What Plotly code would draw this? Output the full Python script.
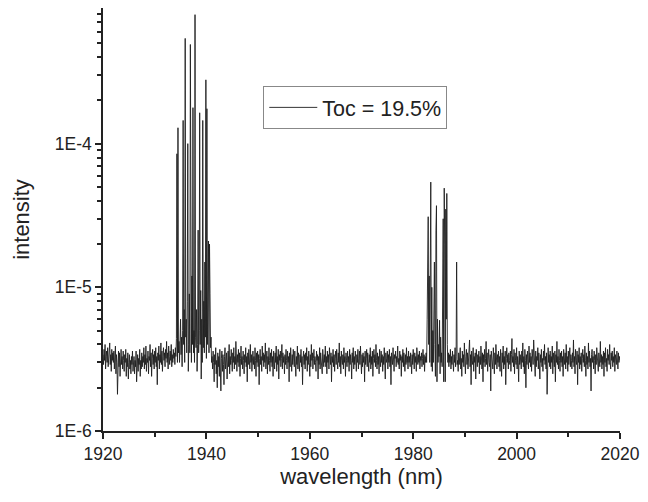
import plotly.graph_objects as go

# intensity values in units of 1e-7, sampled every 0.1 nm, split into regions
step_nm = 0.1

left_start = 1920.0
left_base = [
    34, 29, 37, 31, 40, 27, 33, 36, 30, 38, 28, 35, 32, 41, 29, 34, 26, 37, 31, 35,
    30, 36, 27, 33, 39, 25, 34, 30, 18, 32, 36, 28, 35, 24, 31, 37, 29, 33, 27, 36,
    31, 26, 34, 30, 37, 24, 32, 28, 35, 23, 30, 34, 27, 31, 25, 33, 29, 36, 26, 30,
    33, 25, 31, 28, 36, 22, 30, 34, 26, 32, 29, 37, 24, 31, 27, 35, 28, 33, 30, 38,
    27, 34, 29, 39, 26, 32, 30, 36, 25, 33, 31, 40, 28, 35, 24, 32, 37, 29, 34, 27,
    36, 30, 38, 28, 33, 21, 35, 31, 39, 27, 34, 30, 41, 29, 36, 26, 33, 38, 31, 35,
    28, 37, 32, 42, 30, 35, 27, 39, 33, 29, 36, 31, 40, 28, 34, 30, 37, 32, 35, 29,
    38, 33, 44,
]

peak1_start = 1934.3
peak1 = [
    850, 30, 1290, 35, 42, 30, 38, 60, 34, 45,
    28, 50, 1450, 40, 70, 30, 5400, 45, 60, 35,
    80, 1000, 26, 40, 90, 35, 4900, 55, 30, 120,
    40, 1780, 35, 50, 30, 7900, 45, 38, 70, 26,
    40, 250, 35, 50, 1640, 40, 95, 23, 60, 30,
    1450, 38, 80, 35, 150, 45, 2780, 32, 1750, 40,
    70, 210, 35, 200, 90, 38, 45, 30,
]

mid_start = 1941.1
mid_base = [
    33, 27, 36, 30, 22, 34, 29, 38, 25, 31, 20, 35, 28, 33, 24, 37, 30, 19, 32, 36,
    26, 34, 29, 21, 33, 38, 27, 31, 35, 23, 30, 36, 28, 40, 25, 33, 29, 37, 31, 26,
    35, 30, 38, 27, 33, 29, 42, 31, 26, 34, 30, 37, 28, 35, 24, 32, 39, 29, 33, 27,
    36, 31, 25, 34, 30, 38, 28, 33, 22, 35, 29, 37, 32, 27, 40, 30, 34, 26, 31, 36,
    29, 33, 27, 38, 31, 24, 35, 30, 36, 28, 34, 21, 32, 37, 29, 33, 26, 39, 31, 35,
    28, 34, 30, 41, 27, 32, 36, 25, 33, 29, 38, 31, 26, 35, 30, 37, 28, 33, 24, 36,
    31, 27, 35, 30, 39, 26, 33, 29, 37, 23, 34, 31, 36, 28, 32, 40, 27, 35, 30, 33,
    25, 34, 29, 37, 31, 27, 36, 30, 33, 22, 35, 28, 38, 31, 26, 34, 29, 37, 32, 28,
    36, 30, 24, 33, 29, 39, 27, 35, 31, 26, 34, 30, 37, 28, 33, 21, 32, 36, 29, 34,
    27, 35, 31, 38, 26, 33, 29, 36, 30, 24, 34, 28, 40, 31, 35, 27, 32, 37, 29, 33,
    30, 26, 36, 31, 34, 23, 33, 29, 38, 27, 35, 30, 32, 25, 37, 31, 28, 34, 30, 39,
    28, 33, 25, 36, 30, 34, 27, 38, 31, 29, 35, 22, 33, 30, 37, 28, 34, 26, 32, 36,
    29, 37, 31, 27, 35, 30, 41, 28, 33, 25, 36, 31, 29, 34, 27, 38, 30, 33, 24, 35,
    31, 28, 36, 30, 33, 26, 37, 29, 34, 31, 23, 35, 30, 38, 27, 33, 29, 36, 32, 26,
    34, 30, 37, 27, 32, 36, 29, 39, 31, 25, 34, 28, 35, 30, 33, 22, 36, 29, 32, 37,
    28, 35, 31, 26, 34, 30, 38, 27, 33, 29, 36, 24, 32, 37, 30, 34, 28, 40, 31, 27,
    35, 29, 33, 25, 37, 31, 28, 36, 30, 34, 26, 33, 29, 38, 31, 23, 35, 30, 32, 36,
    27, 34, 30, 37, 28, 33, 21, 35, 31, 29, 38, 30, 26, 34, 32, 36, 28, 33, 30, 39,
    29, 32, 27, 36, 31, 34, 24, 33, 30, 37, 28, 35, 31, 26, 34, 29, 38, 30, 33, 27,
    36, 30, 33, 28, 35, 31, 25, 34, 29, 37, 32, 27, 35, 30, 33, 26, 38, 31, 29, 34,
    30, 36, 27, 33, 31, 35, 28, 32, 37, 29, 34, 26, 33, 30,
]

peak2_start = 1982.5
peak2 = [
    35, 30, 60, 250, 310, 40, 120, 30, 300, 540,
    28, 100, 26, 50, 30, 80, 150, 40, 24, 250,
    370, 22, 60, 30, 40, 33, 59, 25, 45, 30,
    35, 28, 200, 300, 22, 490, 200, 22, 350, 60,
    450, 40, 30, 35, 28, 34, 30, 37, 27, 33,
    29, 36, 31, 26, 34, 30, 38, 28, 33, 150, 29,
]

right_start = 1988.6
right_base = [
    31, 26, 35, 29, 33, 38, 27, 32, 24, 36, 30, 34, 28, 41, 31, 25, 33, 37, 29, 35,
    27, 32, 30, 43, 28, 34, 21, 36, 31, 29, 38, 26, 33, 30, 35, 23, 37, 31, 28, 34,
    30, 36, 25, 33, 29, 39, 31, 27, 35, 22, 34, 30, 37, 28, 32, 42, 29, 35, 26, 33,
    37, 30, 28, 34, 19, 36, 31, 33, 27, 38, 30, 25, 35, 29, 40, 32, 27, 34, 30, 36,
    28, 33, 26, 37, 31, 24, 35, 30, 39, 27, 33, 29, 36, 21, 32, 38, 30, 34, 27, 35,
    31, 29, 36, 26, 34, 44, 30, 33, 28, 37, 25, 35, 31, 29, 38, 27, 33, 30, 22, 36,
    29, 34, 31, 27, 36, 30, 41, 28, 33, 25, 37, 31, 20, 34, 29, 36, 32, 27, 39, 30,
    35, 28, 33, 26, 37, 31, 29, 43, 30, 34, 24, 36, 28, 33, 31, 38, 27, 35, 30, 23,
    34, 30, 37, 28, 32, 26, 36, 31, 40, 29, 33, 27, 35, 18, 32, 38, 30, 34, 28, 36,
    27, 33, 30, 39, 25, 35, 31, 28, 36, 22, 34, 30, 42, 29, 33, 27, 37, 31, 26, 35,
    30, 36, 28, 33, 24, 37, 31, 29, 35, 27, 40, 30, 33, 26, 36, 29, 32, 38, 28, 34,
    31, 27, 35, 30, 43, 28, 33, 25, 37, 31, 29, 36, 21, 34, 30, 38, 27, 33, 29, 35,
    26, 32, 37, 30, 34, 28, 39, 31, 24, 35, 29, 33, 27, 41, 30, 36, 28, 32, 19, 34,
    37, 30, 33, 27, 36, 31, 25, 34, 29, 38, 30, 33, 26, 35, 31, 28, 42, 30, 34, 27,
    33, 29, 36, 24, 35, 30, 38, 28, 32, 26, 37, 31, 34, 29, 40, 30, 27, 35, 31, 36,
    28, 33, 30, 38, 26, 34, 31, 29, 36, 32, 27, 35, 30, 33, 31,
]

segments = [
    (left_start, left_base),
    (peak1_start, peak1),
    (mid_start, mid_base),
    (peak2_start, peak2),
    (right_start, right_base),
]

wavelength = []
intensity = []
for start, vals in segments:
    for i, v in enumerate(vals):
        wavelength.append(round(start + i * step_nm, 2))
        intensity.append(v * 1e-7)

font_family = 'Liberation Sans, Arial, sans-serif'
ink = '#222222'

fig = go.Figure()
fig.add_trace(go.Scatter(
    x=wavelength, y=intensity, mode='lines', name='Toc = 19.5%',
    line=dict(color='#1e1e1e', width=0.9),
))

# page body has an 8px margin on every side; keep the figure inside the window
fig.update_layout(
    width=640, height=486,
    margin=dict(l=95, r=28, t=0, b=63),
    paper_bgcolor='white', plot_bgcolor='white',
    font=dict(family=font_family, color=ink, size=17.5),
    showlegend=True,
    legend=dict(
        x=0.31, y=0.765, xanchor='left', yanchor='middle',
        bordercolor='#888888', borderwidth=1, bgcolor='white',
        font=dict(size=21.5, color=ink),
        itemwidth=48, tracegroupgap=0,
    ),
)

fig.update_xaxes(
    range=[1920, 2020], dtick=20, tick0=1920,
    showline=True, linecolor=ink, linewidth=1.5,
    ticks='outside', ticklen=6, tickwidth=1.5, tickcolor=ink,
    minor=dict(dtick=10, ticks='outside', ticklen=4, tickwidth=1.5, tickcolor=ink),
    showgrid=False, zeroline=False, mirror=False,
    tickfont=dict(size=17.5), ticklabeloverflow='allow',
    title=dict(text='wavelength (nm)', font=dict(size=22), standoff=3),
)

minor_vals = [m * 10 ** e for e in (-6, -5, -4) for m in range(2, 10)]
fig.update_yaxes(
    type='log', range=[-6, -3.056],
    tickvals=[1e-6, 1e-5, 1e-4], ticktext=['1E-6', '1E-5', '1E-4'],
    showline=True, linecolor=ink, linewidth=1.5,
    ticks='outside', ticklen=6, tickwidth=1.5, tickcolor=ink,
    minor=dict(tickmode='array', tickvals=minor_vals, ticks='outside',
               ticklen=4, tickwidth=1.5, tickcolor=ink),
    showgrid=False, zeroline=False, mirror=False,
    tickfont=dict(size=17.5), automargin=True,
    title=dict(text='intensity', font=dict(size=22), standoff=19),
)

fig.write_html("out.html")
